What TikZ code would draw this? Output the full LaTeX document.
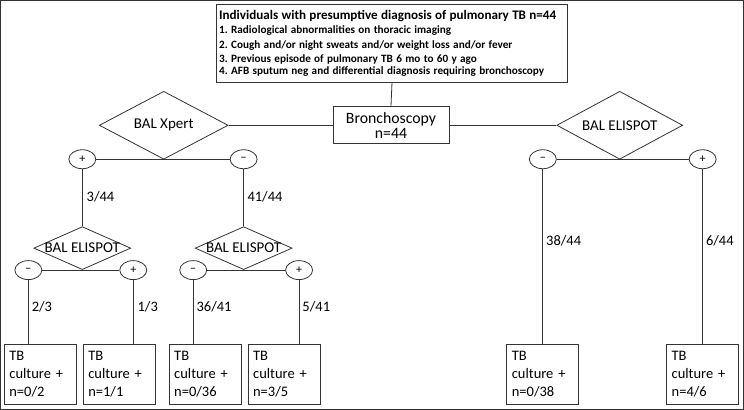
\documentclass[tikz,border=0pt]{standalone}
\usepackage{fontspec}
\setmainfont{Carlito}
\usetikzlibrary{shapes.geometric}
\begin{document}
\frenchspacing
\begin{tikzpicture}[x=1pt,y=-1pt,
  every path/.style={line width=0.8pt,draw=black!80},
  boxn/.style={draw, rectangle, inner sep=0pt},
  dia/.style={draw, diamond, inner sep=0pt},
  sign/.style={draw, ellipse, minimum width=27pt, minimum height=19pt, inner sep=0pt, font=\fontsize{12}{12}\selectfont},
  frac/.style={anchor=west, inner sep=0pt, font=\fontsize{14.5}{15}\selectfont},
  res/.style={draw, rectangle, minimum width=72pt, minimum height=60pt, text width=62pt, align=left, inner sep=0pt, font=\fontsize{14.5}{18}\selectfont},
  lbl/.style={font=\fontsize{15}{15}\selectfont}
]
\useasboundingbox[fill=white] (0,0) rectangle (744,409);

% top box
\node[boxn, minimum width=352pt, minimum height=78pt, text width=346pt, align=left] (top) at (392,43)
 {\fontsize{13.1}{14.2}\selectfont\bfseries Individuals with presumptive diagnosis of pulmonary TB n=44\\
  \fontsize{11.2}{14.2}\selectfont 1. Radiological abnormalities on thoracic imaging\\
  2. Cough and/or night sweats and/or weight loss and/or fever\\
  3. Previous episode of pulmonary TB 6 mo to 60 y ago\\
  4. AFB sputum neg and differential diagnosis requiring bronchoscopy};

% bronchoscopy
\node[boxn, minimum width=116pt, minimum height=37pt, align=center, font=\fontsize{15.8}{15}\selectfont] (bron) at (391,125) {Bronchoscopy\\n=44};

% diamonds
\node[dia, minimum width=129pt, minimum height=68pt, label={[lbl]center:BAL Xpert}] (xd) at (163.5,125) {};
\node[dia, minimum width=126pt, minimum height=68pt, label={[lbl]center:BAL ELISPOT}] (ed) at (620,125) {};
\node[dia, minimum width=97pt, minimum height=43pt, label={[lbl]center:BAL ELISPOT}] (d1) at (82,248) {};
\node[dia, minimum width=97pt, minimum height=43pt, label={[lbl]center:BAL ELISPOT}] (d2) at (243.5,248) {};

% signs
\node[sign] (xp) at (82,159) {+};
\node[sign] (xm) at (243.5,159) {−};
\node[sign] (rm) at (543,159) {−};
\node[sign] (rp) at (703,159) {+};
\node[sign] (c1m) at (28,270) {−};
\node[sign] (c1p) at (133,270) {+};
\node[sign] (c2m) at (193,270) {−};
\node[sign] (c2p) at (299,270) {+};

% result boxes
\node[res] (b1) at (40,374) {TB\\culture +\\n=0/2};
\node[res] (b2) at (119,374) {TB\\culture +\\n=1/1};
\node[res] (b3) at (205,374) {TB\\culture +\\n=0/36};
\node[res] (b4) at (284,374) {TB\\culture +\\n=3/5};
\node[res] (b5) at (543,374) {TB\\culture +\\n=0/38};
\node[res] (b6) at (703,374) {TB\\culture +\\n=4/6};

% connectors
\draw (top.south) -- (bron.north);
\draw (bron.west) -- (xd.east);
\draw (bron.east) -- (ed.west);
\draw (xp) -- (xm);
\draw (rm) -- (rp);
\draw (c1m) -- (c1p);
\draw (c2m) -- (c2p);
\draw (xp) -- (d1.north);
\draw (xm) -- (d2.north);
\draw (c1m) -- (c1m |- b1.north);
\draw (c1p) -- (c1p |- b2.north);
\draw (c2m) -- (c2m |- b3.north);
\draw (c2p) -- (c2p |- b4.north);
\draw (rm) -- (b5.north);
\draw (rp) -- (b6.north);

% fractions
\node[frac] (f1) at (86,197) {3/44};
\node[frac] (f2) at (247,197) {41/44};
\node[frac] (f3) at (31,307) {2/3};
\node[frac] (f4) at (137,307) {1/3};
\node[frac] (f5) at (196,307) {36/41};
\node[frac] (f6) at (302,307) {5/41};
\node[frac] (f7) at (546,241) {38/44};
\node[frac] (f8) at (706,241) {6/44};
\end{tikzpicture}
\end{document}
